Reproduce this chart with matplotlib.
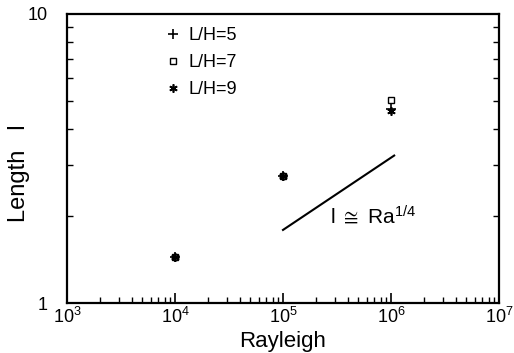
import numpy as np
import matplotlib
matplotlib.use("Agg")
import matplotlib.pyplot as plt

plt.rcParams['font.family'] = ['Liberation Sans', 'DejaVu Sans']
plt.rcParams['mathtext.fontset'] = 'custom'
plt.rcParams['mathtext.rm'] = 'Liberation Sans'
plt.rcParams['mathtext.it'] = 'Liberation Sans'
plt.rcParams['mathtext.default'] = 'regular'

# data
rayleigh = [1e4, 1e5, 1e6]
len_lh5 = [1.44, 2.76, 4.7]
len_lh7 = [1.44, 2.76, 5.05]
len_lh9 = [1.44, 2.76, 4.6]

# scaling line l ~ Ra^(1/4)
fit_ra = np.array([1e5, 1.07e6])
fit_l = 1.79 * (fit_ra / 1e5) ** 0.25

fig = plt.figure(figsize=(5.14, 3.53), dpi=100)
ax = fig.add_axes([67/514, 1 - 303/353, 432/514, 289/353])

ax.plot(rayleigh, len_lh5, ls='none', marker='+', ms=7, mew=1.2, color='k', label='L/H=5')
ax.plot(rayleigh, len_lh7, ls='none', marker='s', ms=5, mew=1.0, mfc='none', color='k', label='L/H=7')
ax.plot(rayleigh, len_lh9, ls='none', marker=(6, 2, 0), ms=6, mew=1.2, color='k', label='L/H=9')
ax.plot(fit_ra, fit_l, color='k', lw=1.5)

ax.text(2.75e5, 2.0, r'l $\cong$ Ra$^{1/4}$', fontsize=15, ha='left', va='center')

ax.set_xscale('log')
ax.set_yscale('log')
ax.set_xlim(1e3, 1e7)
ax.set_ylim(1, 10)

ax.set_yticks([1, 10])
ax.set_yticklabels(['1', '10'])
ax.tick_params(axis='both', which='both', direction='in', labelsize=13)
ax.tick_params(axis='x', which='major', length=7, width=1.2, pad=3)
ax.tick_params(axis='x', which='minor', length=4, width=1.0)
ax.tick_params(axis='y', which='major', length=0, pad=14)
ax.tick_params(axis='y', which='minor', length=4, width=1.0, right=True)
ax.yaxis.set_minor_formatter(matplotlib.ticker.NullFormatter())

for s in ax.spines.values():
    s.set_linewidth(1.6)

ax.set_xlabel('Rayleigh', fontsize=16, labelpad=3)
ax.set_ylabel('Length   l', fontsize=17)
ax.yaxis.set_label_coords(-0.085, 0.45)

ax.legend(loc='upper left', bbox_to_anchor=(0.19, 1.01), frameon=False, fontsize=13,
          handlelength=0.8, handletextpad=0.5, labelspacing=0.55, borderaxespad=0.5)

fig.savefig('out.png', dpi=100)
